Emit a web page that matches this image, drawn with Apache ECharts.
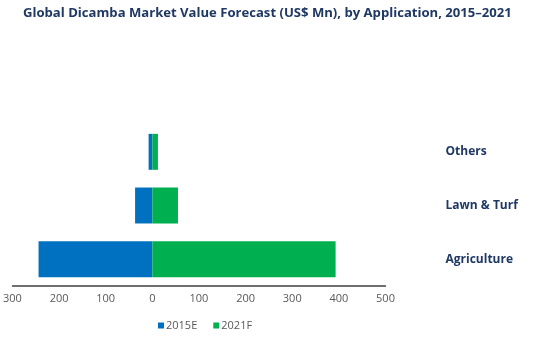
<!DOCTYPE html>
<html><head><meta charset="utf-8">
<script src="https://cdn.jsdelivr.net/npm/echarts@6/dist/echarts.min.js"></script>
<style>html,body{margin:0;padding:0;background:#fff}#c{width:536px;height:341px}</style>
</head><body><div id="c"></div>
<script>
const categories = ['Agriculture', 'Lawn & Turf', 'Others'];
const values2015E = [244, 37, 8];
const values2021F = [393, 55, 12];
const xTicks = [-300, -200, -100, 0, 100, 200, 300, 400, 500];

const chart = echarts.init(document.getElementById('c'));
chart.setOption({
  animation: false,
  title: {
    text: 'Global Dicamba Market Value Forecast (US$ Mn), by Application, 2015\u20132021',
    left: 18, top: 2,
    textStyle: { fontFamily: 'Open Sans', fontWeight: 'bold', fontSize: 13.1, color: '#1F3864' }
  },
  legend: {
    data: ['2015E', '2021F'],
    bottom: 5, left: 153,
    itemWidth: 6, itemHeight: 6, itemGap: 16,
    icon: 'rect',
    textStyle: { fontFamily: 'Open Sans', fontSize: 11, color: '#595959', padding: [0, 0, 0, -3] }
  },
  grid: { left: 9.5, right: 150.5, top: 125, bottom: 55, containLabel: false },
  xAxis: {
    type: 'value', min: xTicks[0], max: xTicks[xTicks.length - 1], interval: 100,
    axisLine: { show: true, lineStyle: { color: '#404040', width: 1.5 } },
    axisTick: { show: false },
    splitLine: { show: false },
    axisLabel: { formatter: v => Math.abs(v), color: '#595959', fontFamily: 'Open Sans', fontSize: 11, margin: 7 }
  },
  yAxis: {
    type: 'category', data: categories, position: 'right',
    axisLine: { show: false }, axisTick: { show: false },
    axisLabel: { align: 'left', margin: 60, padding: [0, 0, 7, 0], fontFamily: 'Open Sans', fontWeight: 'bold', fontSize: 12, color: '#1F3864' }
  },
  series: [
    { name: '2015E', type: 'bar', stack: 'a', barCategoryGap: '33%',
      itemStyle: { color: '#0070C0' }, data: values2015E.map(v => -v) },
    { name: '2021F', type: 'bar', stack: 'a', barCategoryGap: '33%',
      itemStyle: { color: '#00B050' }, data: values2021F }
  ]
});
</script></body></html>
